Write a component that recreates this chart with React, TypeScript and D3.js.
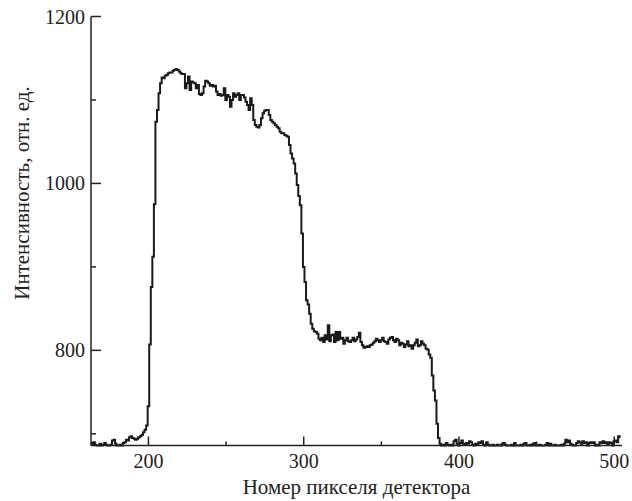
import React from "react";
import * as d3 from "d3";

// detector pixel numbers start here, one value per pixel
const pixelStart = 163;
const intensity = [
  689, 687, 690, 687, 686, 686, 688, 686, 687, 689, 687, 686, 686, 687, 692, 693, 688, 686, 686, 687,
  686, 689, 690, 693, 692, 696, 697, 695, 694, 693, 694, 696, 697, 699, 702, 705, 710, 733, 807, 876,
  912, 975, 1074, 1088, 1108, 1120, 1127, 1126, 1129, 1130, 1132, 1133, 1133, 1135, 1136, 1137, 1136, 1134, 1132, 1131,
  1131, 1114, 1120, 1128, 1112, 1122, 1121, 1120, 1114, 1118, 1107, 1106, 1108, 1116, 1123, 1122, 1120, 1117, 1118, 1116,
  1117, 1110, 1106, 1107, 1105, 1106, 1114, 1100, 1106, 1104, 1092, 1100, 1108, 1104, 1106, 1108, 1100, 1106, 1106, 1103,
  1098, 1094, 1088, 1102, 1094, 1076, 1070, 1068, 1067, 1070, 1078, 1084, 1087, 1088, 1088, 1082, 1076, 1074, 1072, 1070,
  1068, 1066, 1062, 1060, 1060, 1058, 1057, 1056, 1046, 1036, 1030, 1024, 1012, 998, 985, 974, 940, 900, 882, 860,
  855, 844, 832, 826, 823, 822, 820, 814, 812, 815, 810, 818, 813, 830, 811, 818, 819, 810, 822, 812,
  822, 814, 815, 808, 812, 815, 811, 810, 812, 815, 811, 813, 816, 821, 810, 806, 803, 804, 805, 804,
  806, 807, 809, 811, 814, 812, 810, 812, 815, 811, 810, 808, 813, 815, 816, 812, 810, 814, 812, 806,
  809, 808, 804, 807, 811, 805, 806, 802, 806, 809, 813, 805, 806, 811, 808, 806, 802, 801, 795, 791,
  770, 752, 740, 712, 695, 688, 686, 687, 686, 689, 687, 686, 687, 686, 691, 693, 688, 686, 689, 692,
  688, 687, 689, 688, 691, 690, 687, 686, 688, 687, 690, 689, 691, 687, 686, 690, 687, 686, 686, 687,
  686, 686, 687, 686, 686, 688, 689, 687, 686, 686, 686, 687, 686, 689, 686, 686, 686, 687, 686, 688,
  689, 686, 686, 687, 686, 688, 689, 686, 686, 687, 686, 686, 686, 687, 689, 686, 688, 686, 686, 687,
  686, 686, 686, 687, 686, 688, 693, 690, 692, 688, 687, 686, 686, 689, 691, 690, 688, 691, 689, 690,
  686, 689, 690, 689, 690, 686, 687, 686, 690, 689, 691, 689, 690, 687, 690, 689, 686, 691, 692, 690,
  697, 696,
];

const xTicks = [200, 300, 400, 500];
const xMinorTicks = [250, 350, 450];
const yTicks = [800, 1000, 1200];
const yMinorTicks = [700, 900, 1100];

const xTitle = "Номер пикселя детектора";
const yTitle = "Интенсивность, отн. ед.";

const width = 632;
const height = 501;
const margin = { top: 16.5, right: 10, bottom: 55.5, left: 91 };
const serif = "'Liberation Serif', 'Times New Roman', serif";
const tickStyle = { fontFamily: serif, fontSize: "20px" };
const titleStyle = { fontFamily: serif, fontSize: "21px" };

export default function App() {
  const points = intensity.map((v, i) => [pixelStart + i, v] as [number, number]);

  const x = d3
    .scaleLinear()
    .domain([163, 505])
    .range([margin.left, width - margin.right]);
  const y = d3
    .scaleLinear()
    .domain([686, 1200])
    .range([height - margin.bottom, margin.top]);

  const line = d3
    .line<[number, number]>()
    .x((d) => x(d[0]))
    .y((d) => y(d[1]))
    .curve(d3.curveStep);

  const x0 = x.range()[0];
  const x1 = x.range()[1];
  const yb = y.range()[0];
  const yt = y.range()[1];

  return (
    <svg
      width={width}
      height={height}
      style={{ position: "absolute", left: 0, top: 0, background: "#fff" }}
    >
      <path d={line(points) ?? ""} fill="none" stroke="#1a1a1a" strokeWidth={2} />

      {/* axes */}
      <line x1={x0} x2={x0} y1={yt} y2={yb} stroke="#222" strokeWidth={1.5} />
      <line x1={x0} x2={x1} y1={yb} y2={yb} stroke="#222" strokeWidth={1.5} />

      {yTicks.map((t) => (
        <g key={"y" + t}>
          <line x1={x0} x2={x0 + 10} y1={y(t)} y2={y(t)} stroke="#222" strokeWidth={1.5} />
          <text x={x0 - 6} y={y(t)} dy="0.35em" textAnchor="end" style={tickStyle} fill="#222">
            {t}
          </text>
        </g>
      ))}
      {yMinorTicks.map((t) => (
        <line key={"ym" + t} x1={x0} x2={x0 + 5} y1={y(t)} y2={y(t)} stroke="#222" strokeWidth={1.5} />
      ))}

      {xTicks.map((t) => (
        <g key={"x" + t}>
          <line x1={x(t)} x2={x(t)} y1={yb} y2={yb - 9} stroke="#222" strokeWidth={1.5} />
          <text x={x(t)} y={468} textAnchor="middle" style={tickStyle} fill="#222">
            {t}
          </text>
        </g>
      ))}
      {xMinorTicks.map((t) => (
        <line key={"xm" + t} x1={x(t)} x2={x(t)} y1={yb} y2={yb - 4} stroke="#222" strokeWidth={1.5} />
      ))}

      <text x={(x0 + x1) / 2} y={494} textAnchor="middle" style={titleStyle} fill="#222">
        {xTitle}
      </text>
      <text
        transform={`translate(29,193) rotate(-90)`}
        textAnchor="middle"
        style={titleStyle}
        fill="#222"
      >
        {yTitle}
      </text>
    </svg>
  );
}
